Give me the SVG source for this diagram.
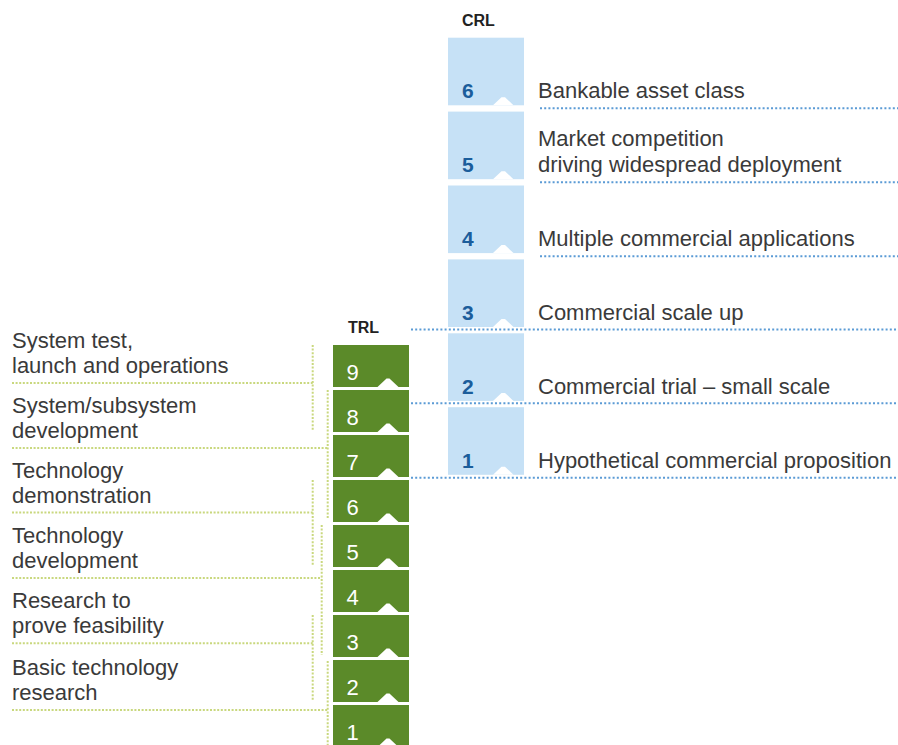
<svg xmlns="http://www.w3.org/2000/svg" width="898" height="745" viewBox="0 0 898 745">
<style>
.crl{fill:#c6e1f6}
.trl{fill:#5b8a29}
.notch{fill:#ffffff}
.cnum{font-family:"Liberation Sans",Arial,sans-serif;font-size:21px;font-weight:bold;fill:#1b5d9b}
.tnum{font-family:"Liberation Sans",Arial,sans-serif;font-size:22px;fill:#ffffff}
.lbl{font-family:"Liberation Sans",Arial,sans-serif;font-size:22px;fill:#3a3a3a}
.hdr{font-family:"Liberation Sans",Arial,sans-serif;font-size:16px;font-weight:bold;fill:#222222}
.bdot{fill:none;stroke:#5b9bd5;stroke-width:2;stroke-dasharray:2 2.2}
.gdot{fill:none;stroke:#c9d87e;stroke-width:2;stroke-dasharray:2 1.6}
</style>
<rect width="898" height="745" fill="#ffffff"/>
<g id="headers">
<text class="hdr" x="462" y="26">CRL</text>
<text class="hdr" x="348" y="333">TRL</text>
</g>
<g id="connectors">
<path class="bdot" d="M540 108.3H898M540 182.3H898M540 256.2H898M411 329.5H898M411 403.3H898M411 477.7H898"/>
<path class="gdot" d="M12 383H312.7M312.7 345V430"/>
<path class="gdot" d="M12 448H327.7M327.7 390V518"/>
<path class="gdot" d="M12 512.5H312.7M312.7 480V565"/>
<path class="gdot" d="M12 578H321.7M321.7 525V655"/>
<path class="gdot" d="M12 643.3H312.7M312.7 615V700"/>
<path class="gdot" d="M12 710H327.7M327.7 661V745"/>
</g>
<g id="crl6"><rect class="crl" x="448" y="37.7" width="76" height="67.6"/><polygon class="notch" points="493,105.3 501.5,97.3 505,97.3 513.5,105.3"/><text class="cnum" x="462" y="98">6</text><text class="lbl" x="538" y="98">Bankable asset class</text></g>
<g id="crl5"><rect class="crl" x="448" y="111.6" width="76" height="67.6"/><polygon class="notch" points="493,179.2 501.5,171.2 505,171.2 513.5,179.2"/><text class="cnum" x="462" y="172">5</text><text class="lbl" x="538" y="146">Market competition</text><text class="lbl" x="538" y="172">driving widespread deployment</text></g>
<g id="crl4"><rect class="crl" x="448" y="185.5" width="76" height="67.6"/><polygon class="notch" points="493,253.1 501.5,245.1 505,245.1 513.5,253.1"/><text class="cnum" x="462" y="246">4</text><text class="lbl" x="538" y="246">Multiple commercial applications</text></g>
<g id="crl3"><rect class="crl" x="448" y="259.4" width="76" height="67.6"/><polygon class="notch" points="493,327 501.5,319 505,319 513.5,327"/><text class="cnum" x="462" y="320">3</text><text class="lbl" x="538" y="320">Commercial scale up</text></g>
<g id="crl2"><rect class="crl" x="448" y="333.3" width="76" height="67.6"/><polygon class="notch" points="493,400.9 501.5,392.9 505,392.9 513.5,400.9"/><text class="cnum" x="462" y="394">2</text><text class="lbl" x="538" y="394">Commercial trial – small scale</text></g>
<g id="crl1"><rect class="crl" x="448" y="407.2" width="76" height="67.6"/><polygon class="notch" points="493,474.8 501.5,466.8 505,466.8 513.5,474.8"/><text class="cnum" x="462" y="468">1</text><text class="lbl" x="538" y="468">Hypothetical commercial proposition</text></g>
<g id="trl9"><rect class="trl" x="333" y="345" width="76" height="42"/><polygon class="notch" points="377.5,387 386.5,378.5 389.5,378.5 398.5,387"/><text class="tnum" x="346.5" y="380">9</text></g>
<g id="trl8"><rect class="trl" x="333" y="390" width="76" height="42"/><polygon class="notch" points="377.5,432 386.5,423.5 389.5,423.5 398.5,432"/><text class="tnum" x="346.5" y="425">8</text></g>
<g id="trl7"><rect class="trl" x="333" y="435" width="76" height="42"/><polygon class="notch" points="377.5,477 386.5,468.5 389.5,468.5 398.5,477"/><text class="tnum" x="346.5" y="470">7</text></g>
<g id="trl6"><rect class="trl" x="333" y="480" width="76" height="42"/><polygon class="notch" points="377.5,522 386.5,513.5 389.5,513.5 398.5,522"/><text class="tnum" x="346.5" y="515">6</text></g>
<g id="trl5"><rect class="trl" x="333" y="525" width="76" height="42"/><polygon class="notch" points="377.5,567 386.5,558.5 389.5,558.5 398.5,567"/><text class="tnum" x="346.5" y="560">5</text></g>
<g id="trl4"><rect class="trl" x="333" y="570" width="76" height="42"/><polygon class="notch" points="377.5,612 386.5,603.5 389.5,603.5 398.5,612"/><text class="tnum" x="346.5" y="605">4</text></g>
<g id="trl3"><rect class="trl" x="333" y="615" width="76" height="42"/><polygon class="notch" points="377.5,657 386.5,648.5 389.5,648.5 398.5,657"/><text class="tnum" x="346.5" y="650">3</text></g>
<g id="trl2"><rect class="trl" x="333" y="660" width="76" height="42"/><polygon class="notch" points="377.5,702 386.5,693.5 389.5,693.5 398.5,702"/><text class="tnum" x="346.5" y="695">2</text></g>
<g id="trl1"><rect class="trl" x="333" y="705" width="76" height="42"/><polygon class="notch" points="377.5,747 386.5,738.5 389.5,738.5 398.5,747"/><text class="tnum" x="346.5" y="740">1</text></g>
<g id="label-system-test"><text class="lbl" x="12" y="348">System test,</text><text class="lbl" x="12" y="373">launch and operations</text></g>
<g id="label-subsystem"><text class="lbl" x="12" y="413">System/subsystem</text><text class="lbl" x="12" y="438">development</text></g>
<g id="label-demonstration"><text class="lbl" x="12" y="477.5">Technology</text><text class="lbl" x="12" y="502.5">demonstration</text></g>
<g id="label-development"><text class="lbl" x="12" y="543">Technology</text><text class="lbl" x="12" y="568">development</text></g>
<g id="label-feasibility"><text class="lbl" x="12" y="608">Research to</text><text class="lbl" x="12" y="633">prove feasibility</text></g>
<g id="label-basic"><text class="lbl" x="12" y="675">Basic technology</text><text class="lbl" x="12" y="700">research</text></g>
</svg>
